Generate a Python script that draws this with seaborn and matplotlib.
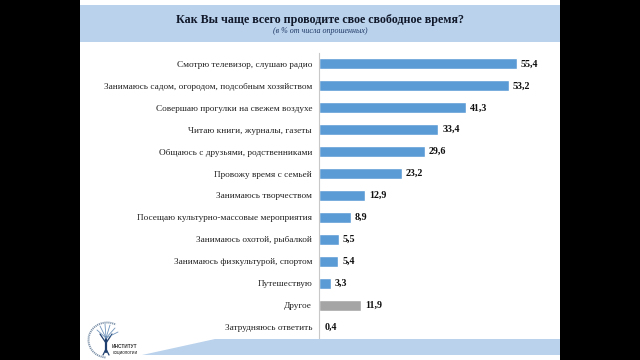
import matplotlib
matplotlib.use("Agg")
import matplotlib.pyplot as plt
from matplotlib.patches import Arc, Polygon, Rectangle
import pandas as pd
import seaborn as sns

CATEGORIES = ["Смотрю телевизор, слушаю радио", "Занимаюсь садом, огородом, подсобным хозяйством",
              "Совершаю прогулки на свежем воздухе", "Читаю книги, журналы, газеты",
              "Общаюсь с друзьями, родственниками", "Провожу время с семьей",
              "Занимаюсь творчеством", "Посещаю культурно-массовые мероприятия",
              "Занимаюсь охотой, рыбалкой", "Занимаюсь физкультурой, спортом",
              "Путешествую", "Другое", "Затрудняюсь ответить"]
VALUES = [55.4, 53.2, 41.3, 33.4, 29.6, 23.2, 12.9, 8.9, 5.5, 5.4, 3.3, 11.9, 0.4]
KINDS = ["main"] * 11 + ["other", "other"]
LABELS = ["55,4", "53,2", "41,3", "33,4", "29,6", "23,2", "12,9", "8,9", "5,5", "5,4", "3,3", "11,9", "0,4"]

TITLE = "Как Вы чаще всего проводите свое свободное время?"
SUBTITLE = "(в % от числа опрошенных)"

W, H = 640, 360

sns.set_theme(style="white")
plt.rcParams["font.family"] = ["Liberation Serif", "DejaVu Serif"]

df = pd.DataFrame({"cat": CATEGORIES, "val": VALUES, "kind": KINDS})

fig = plt.figure(figsize=(W / 100, H / 100), dpi=100, facecolor="black")

# slide background in pixel coordinates
bg = fig.add_axes([0, 0, 1, 1])
bg.set_xlim(0, W)
bg.set_ylim(H, 0)
bg.axis("off")
bg.add_patch(Rectangle((80, 0), 480, 360, color="white", lw=0))
bg.add_patch(Rectangle((80, 5), 480, 37, color="#BAD2EC", lw=0))
bg.add_patch(Polygon([(142, 355), (215, 339), (560, 339), (560, 355)], color="#BAD2EC", lw=0))
bg.text(320, 19.5, TITLE, ha="center", va="center", fontsize=8.65, fontweight="bold", color="#10182a")
bg.text(320, 31, SUBTITLE, ha="center", va="center", fontsize=5.8, style="italic", color="#1f3864")

# logo, roughly
bg.add_patch(Arc((107, 340), 37, 35, theta1=95, theta2=300, color="#7f93aa", lw=1.4, ls=(0, (0.6, 0.4))))
bg.text(112, 346, "ИНСТИТУТ", ha="left", va="center", fontsize=3.4, fontweight="bold", color="#333333",
        family="Liberation Sans")
bg.text(112.5, 353, "СОЦИОЛОГИИ", ha="left", va="center", fontsize=2.5, fontweight="bold", color="#444444",
        family="Liberation Sans")
bg.plot([106, 106], [352, 337], color="#1f3f6e", lw=1.6)
bg.plot([100, 106, 112], [334, 343, 334], color="#1f3f6e", lw=0.9)
bg.plot([103, 106, 109], [355, 349, 355], color="#1f3f6e", lw=0.9)
for dx, dy in [(-9, -8), (-6, -12), (-1, -14), (4, -13), (9, -10), (12, -6)]:
    bg.plot([106, 106 + dx], [338, 338 + dy], color="#6f93bb", lw=0.6)

# chart axes, placed so the zero line sits at x=319
ax = fig.add_axes([319 / W, 1 - 338 / H, 221 / W, 285 / H])
sns.barplot(data=df, y="cat", x="val", hue="kind", dodge=False, legend=False, saturation=1,
            palette={"main": "#5B9BD5", "other": "#A5A5A5"}, width=0.5, ax=ax)
ax.set_xlim(0, 221 / 3.57)
ax.set_facecolor("none")
ax.set_xlabel("")
ax.set_ylabel("")
ax.xaxis.set_visible(False)
sns.despine(ax=ax, left=False, bottom=True)
ax.spines["left"].set_color("#C8C8C8")
ax.spines["left"].set_linewidth(0.8)
ax.tick_params(axis="y", length=0, pad=5, labelsize=6.7, labelcolor="#222222")

for i, v in enumerate(VALUES):
    ax.text(v + 1.1, i, LABELS[i], va="center", ha="left", fontsize=7.2, fontweight="bold", color="#111111")

fig.savefig("out.png", dpi=100, facecolor=fig.get_facecolor())
